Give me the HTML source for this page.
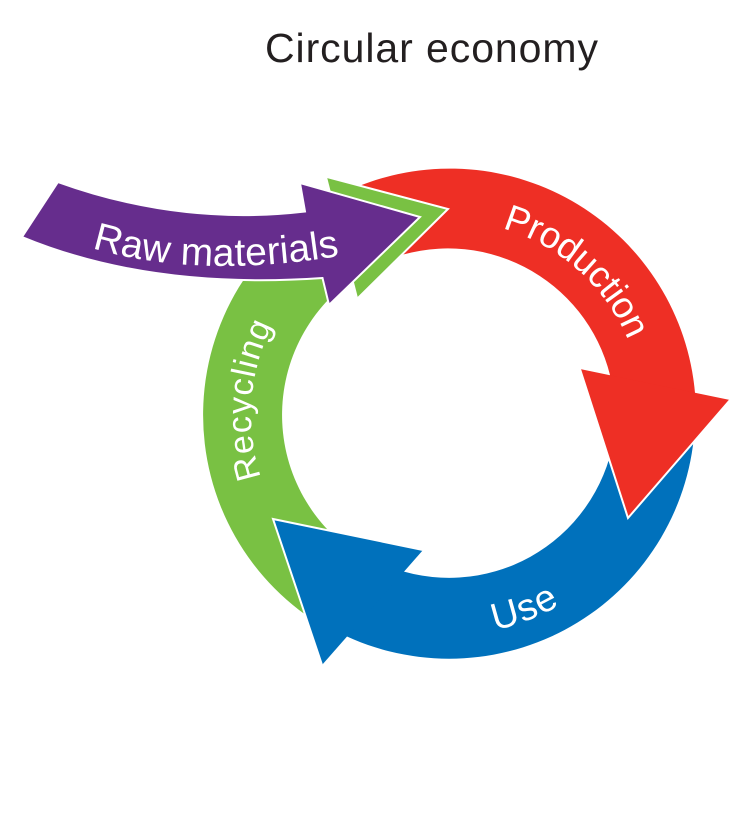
<!DOCTYPE html>
<html>
<head>
<meta charset="utf-8">
<style>
  html, body { margin: 0; padding: 0; background: #ffffff; }
  svg { display: block; }
</style>
</head>
<body>
<svg width="751" height="815" viewBox="0 0 751 815" xmlns="http://www.w3.org/2000/svg">
  <rect x="0" y="0" width="751" height="815" fill="#ffffff"/>

  <!-- Title -->
  <text x="265" y="62" font-family="'Liberation Sans', sans-serif" font-size="41" fill="#231f20" textLength="333">Circular economy</text>

  <!-- Shafts -->
  <path d="M356.8,186.9 A246,246 0 0 1 695,393 L694,397 L609,378 L610,375 A167,167 0 0 0 386.4,260.2 Z" fill="#ee2f25"/>
  <path d="M694.9,423.6 A246,246 0 0 1 347,636.5 L344.8,634.5 L401.8,569.6 L404,571.6 A167,167 0 0 0 615.9,420.8 Z" fill="#0071bc"/>
  <path d="M326,628 A246,246 0 0 1 332.5,198.4 L335.4,197.6 L355.9,277.6 L353,278.4 A167,167 0 0 0 365.5,559.6 Z" fill="#79c143"/>

  <!-- Heads -->
  <polygon points="580,369 730,400 628,518" fill="#ee2f25"/>
  <polyline points="580,369 628,518 730,400" fill="none" stroke="#ffffff" stroke-width="2" stroke-linejoin="miter"/>
  <polygon points="273,519 423,550 322,665" fill="#0071bc"/>
  <polyline points="423,550 273,519 322,665" fill="none" stroke="#ffffff" stroke-width="2" stroke-linejoin="miter"/>
  <polygon points="327,177 448,209 358,298" fill="#79c143"/>
  <polyline points="327,177 448,209 358,298" fill="none" stroke="#ffffff" stroke-width="2" stroke-linejoin="miter"/>

  <!-- Purple arrow -->
  <path d="M58,182 Q180,226 305,211.5 L300,183 L420,217 L329,305 L322.5,278 Q150,290 22,237 Z" fill="#662d8d" stroke="#ffffff" stroke-width="2" stroke-linejoin="miter"/>

  <defs>
    <path id="pRaw" d="M92,248 Q200,280 345,255"/>
    <path id="pProd" d="M482.7,223.9 A194,194 0 0 1 640.1,381.3"/>
    <path id="pUse" d="M468.2,634.2 A220,220 0 0 0 590.4,583.5"/>
    <path id="pRec" d="M269.6,498.7 A198,198 0 0 1 286.8,301.4"/>
  </defs>

  <text font-family="'Liberation Sans', sans-serif" font-size="39" fill="#ffffff">
    <textPath href="#pRaw" startOffset="0" textLength="250">Raw materials</textPath>
  </text>
  <text font-family="'Liberation Sans', sans-serif" font-size="37" fill="#ffffff">
    <textPath href="#pProd" startOffset="20" textLength="174">Production</textPath>
  </text>
  <text font-family="'Liberation Sans', sans-serif" font-size="38" fill="#ffffff">
    <textPath href="#pUse" startOffset="27" textLength="70">Use</textPath>
  </text>
  <text font-family="'Liberation Sans', sans-serif" font-size="34" fill="#ffffff">
    <textPath href="#pRec" startOffset="23" textLength="156">Recycling</textPath>
  </text>
</svg>
</body>
</html>
